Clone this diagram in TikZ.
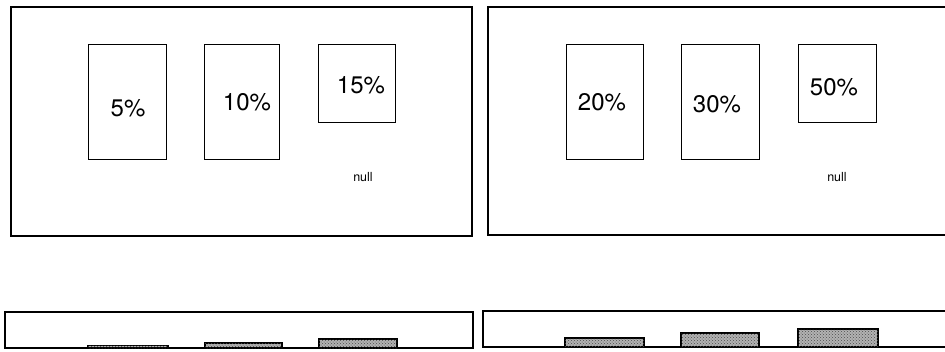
\documentclass[tikz,border=0pt]{standalone}
\usepackage{fontspec}
\setmainfont{TeX Gyre Heros}
\usetikzlibrary{patterns}
\begin{document}
\begin{tikzpicture}[x=1pt,y=-1pt,
  panel/.style={draw, line width=1.1pt, inner sep=0pt, outer sep=0pt},
  box/.style={draw, line width=1pt, inner sep=0pt, outer sep=0pt},
  pct/.style={font=\fontsize{24}{24}\selectfont, inner sep=0pt},
  nul/.style={font=\fontsize{12.5}{12.5}\selectfont, inner sep=0pt},
  bar/.style={draw, fill=gray!60, postaction={pattern=crosshatch dots, pattern color=black!70},
              line width=1.2pt, inner sep=0pt, outer sep=0pt, anchor=south west}]
\useasboundingbox (0,0) rectangle (945,351);
\begin{scope}
\clip (0,0) rectangle (945,351);
% top panels
\node[panel, minimum width=461, minimum height=229] (p1) at (241.5,121.5) {};
\node[panel, minimum width=464, minimum height=228] (p2) at (720,121) {};
% boxes
\node[box, minimum width=78, minimum height=115] (b5)  at (127,101.5) {};
\node[box, minimum width=75, minimum height=115] (b10) at (241.5,101.5) {};
\node[box, minimum width=77, minimum height=78]  (b15) at (356.5,83) {};
\node[box, minimum width=77, minimum height=115] (b20) at (604.5,101.5) {};
\node[box, minimum width=78, minimum height=115] (b30) at (720,101.5) {};
\node[box, minimum width=78, minimum height=78]  (b50) at (837,83) {};
% labels
\node[pct] (t5)  at (128,108) {5\%};
\node[pct] (t10) at (247,102) {10\%};
\node[pct] (t15) at (361,85) {15\%};
\node[pct] (t20) at (602,102) {20\%};
\node[pct] (t30) at (717,104) {30\%};
\node[pct] (t50) at (834,87) {50\%};
\node[nul] (n1) at (363,177) {null};
\node[nul] (n2) at (837,177) {null};
% bottom panels
\node[panel, minimum width=468, minimum height=36] (q1) at (239,330) {};
\node[panel, minimum width=469, minimum height=36] (q2) at (717.5,329) {};
% bars
\node[bar, minimum width=80, minimum height=2.5] (c5)  at (88,348) {};
\node[bar, minimum width=77, minimum height=5]   (c10) at (205,348) {};
\node[bar, minimum width=78, minimum height=9]   (c15) at (319,348) {};
\node[bar, minimum width=79, minimum height=9]   (c20) at (565,347) {};
\node[bar, minimum width=78, minimum height=14]  (c30) at (681,347) {};
\node[bar, minimum width=80, minimum height=18]  (c50) at (798,347) {};
\end{scope}
\end{tikzpicture}
\end{document}
